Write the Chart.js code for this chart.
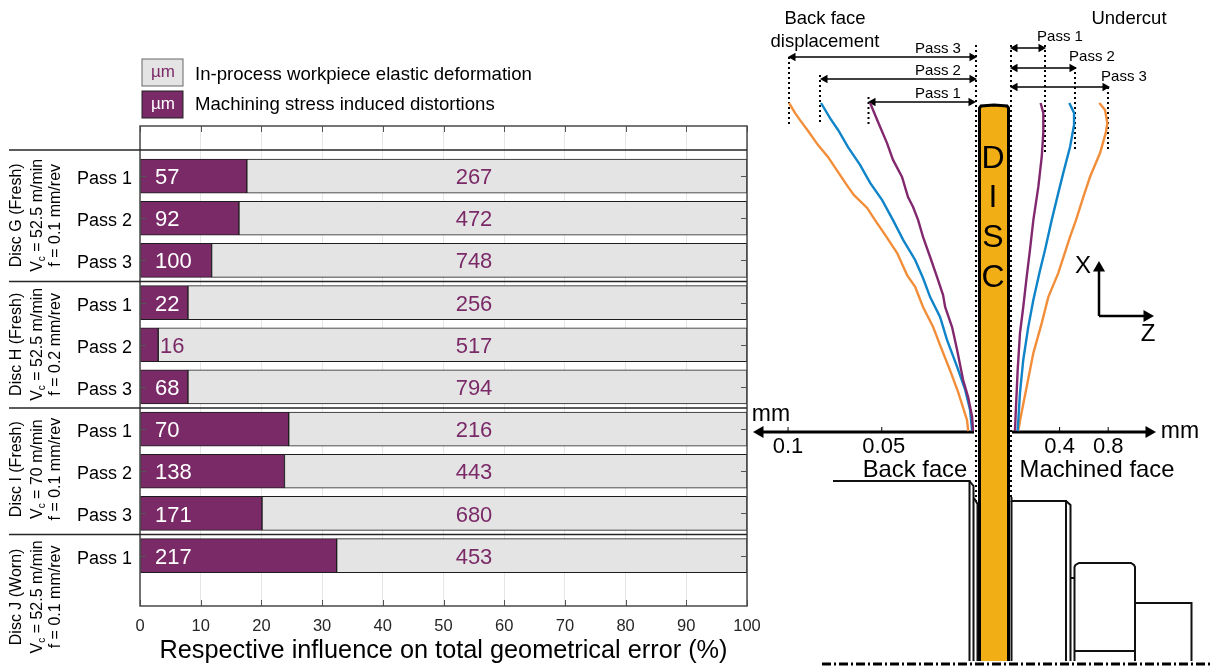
<!DOCTYPE html>
<html>
<head>
<meta charset="utf-8">
<style>
  html, body { margin: 0; padding: 0; background: #fff; overflow: hidden; }
  #wrap { position: relative; width: 1210px; height: 666px; overflow: hidden; }
  canvas { position: absolute; top: 0; }
  #bars { left: 0; }
  #profile { left: 750px; }
</style>
<script src="https://cdn.jsdelivr.net/npm/chart.js@4/dist/chart.umd.min.js"></script>
</head>
<body>
<div id="wrap">
  <canvas id="bars" width="765" height="666"></canvas>
  <canvas id="profile" width="460" height="666"></canvas>
</div>
<script>
// left chart : share of each error source, one row per pass
const rows = [0, 1, 2, 3, 4, 5, 6, 7, 8, 9];
const passLabels = ['Pass 1', 'Pass 2', 'Pass 3', 'Pass 1', 'Pass 2', 'Pass 3', 'Pass 1', 'Pass 2', 'Pass 3', 'Pass 1'];
const machiningPct = [17.6, 16.3, 11.8, 7.9, 3.0, 7.9, 24.5, 23.8, 20.1, 32.4];
const elasticPct = [82.4, 83.7, 88.2, 92.1, 97.0, 92.1, 75.5, 76.2, 79.9, 67.6];
const machiningUm = ['57', '92', '100', '22', '16', '68', '70', '138', '171', '217'];
const elasticUm = ['267', '472', '748', '256', '517', '794', '216', '443', '680', '453'];
const legendLabels = ['In-process workpiece elastic deformation', 'Machining stress induced distortions'];
const discNames = ['Disc G (Fresh)', 'Disc H (Fresh)', 'Disc I (Fresh)', 'Disc J (Worn)'];
const discSpeeds = ['52.5 m/min', '52.5 m/min', '70 m/min', '52.5 m/min'];
const discFeeds = ['f = 0.1 mm/rev', 'f = 0.2 mm/rev', 'f = 0.1 mm/rev', 'f = 0.1 mm/rev'];

// right chart : displacement in mm against position along the face (%)
const backPass1Mm = [.0562, .0520, .0472, .0440, .0392, .0360, .0333, .0306, .0280, .0242, .0205, .0173, .0162, .0125, .0098, .0066, .0039, .0018, .0013];
const backPass1Pos = [100, 94.2, 87.8, 82.7, 77.5, 71.4, 68.4, 64.4, 59.3, 53.2, 47.1, 41.6, 38, 31.9, 24.9, 15.8, 10.6, 4.6, 0.3];
const backPass2Mm = [.0824, .0776, .0733, .0680, .0616, .0562, .0498, .0440, .0386, .0322, .0280, .0242, .0189, .0152, .0098, .0055, .0029, .0018];
const backPass2Pos = [100, 95.4, 91.8, 86.6, 81.2, 75.7, 70.5, 64.4, 58.4, 52.3, 46.8, 41, 35, 28, 19.8, 12.8, 6.7, 0.3];
const backPass3Mm = [.0995, .0963, .0936, .0893, .0840, .0787, .0733, .0680, .0648, .0578, .0536, .0482, .0418, .0365, .0322, .0280, .0226, .0189, .0136, .0093, .0045, .0039];
const backPass3Pos = [100, 97, 94.8, 91.5, 87.2, 83.6, 79, 74.5, 72, 68.1, 64.4, 59.9, 54.4, 47.7, 44.1, 38, 31.9, 26.4, 18.8, 12.2, 3.6, 0.3];
const frontPass1Mm = [.244, .266, .266, .253, .225, .184, .156, .129, .101, .074, .055, .039, .033];
const frontPass1Pos = [100, 97, 90.9, 83.6, 74.5, 64.4, 55.3, 47.1, 38, 30.1, 18.8, 5.8, 0.3];
const frontPass2Mm = [.480, .519, .519, .486, .430, .389, .335, .280, .239, .184, .142, .101, .074, .055];
const frontPass2Pos = [100, 97, 93.3, 86.6, 78.7, 72.6, 64.4, 55.3, 49.2, 40.1, 31.9, 21.9, 11.9, 0.3];
const frontPass3Mm = [.727, .774, .793, .782, .733, .650, .595, .535, .486, .389, .307, .253, .184, .129, .080, .060];
const frontPass3Pos = [100, 97.9, 93.9, 91.2, 84.8, 77.5, 71.4, 64.4, 59.3, 48.3, 41, 33.1, 24, 13.7, 4.6, 0.3];
const backTicks = [0.1, 0.05];
const frontTicks = [0.4, 0.8];

// schematic of the part, in page units
const discFill = [[979.5, 108], [981, 106], [994, 105], [1007, 106], [1008.5, 108], [1008.5, 661], [979.5, 661], [979.5, 108]];
const discEdge = [[979.5, 661], [979.5, 108], [981, 106], [994, 105], [1007, 106], [1008.5, 108], [1008.5, 661]];
const backOutlineA = [[833, 481], [969.5, 481], [969.5, 661]];
const backOutlineB = [[969.5, 481], [973.5, 486], [973.5, 661]];
const backOutlineC = [[974, 498], [977.5, 504], [977.5, 661]];
const frontOutlineA = [[1011.5, 497], [1011.5, 501], [1066, 501], [1066, 661]];
const frontOutlineB = [[1066, 501], [1070.5, 505], [1070.5, 661]];
const frontStepLine = [[1011.5, 501], [1011.5, 661]];
const stepTick = [[1070.5, 578], [1074.5, 578]];
const shoulder = [[1074.5, 661], [1074.5, 567], [1075.5, 565], [1079, 563], [1131, 563], [1134, 565], [1135, 567], [1135, 661]];
const shoulderBase = [[1074.5, 651], [1135, 651]];
const endStep = [[1135, 603], [1191.5, 603], [1191.5, 661]];
const centreLine = [[822, 664], [1210, 664]];
const dottedGuides = [
  [[789, 57], [789, 125]], [[820, 75], [820, 125]], [[868.5, 97], [868.5, 125]],
  [[976, 45], [976, 505]], [[1011, 45], [1011, 497]],
  [[1045, 45], [1045, 152]], [[1075, 67], [1075, 152]], [[1108, 87], [1108, 152]]
];
const spanArrows = [
  [[975, 57], [793, 57], [972, 57]], [[975, 79], [825, 79], [972, 79]], [[974, 102], [873, 102], [971, 102]],
  [[1013, 48], [1041, 48], [1015, 48]], [[1013, 68], [1072, 68], [1015, 68]], [[1013, 87], [1105, 87], [1015, 87]]
];
const axisBack = [[974, 432], [760, 432]];
const axisFront = [[1012, 432], [1149, 432]];
const axisX = [[1099, 316], [1099, 268]];
const axisZ = [[1099, 316], [1147, 316]];

const purple = '#7b2a68';
const grey = '#e4e4e4';
const ink = '#262626';
const sans = '"Liberation Sans", Arial, sans-serif';

Chart.defaults.animation = false;
Chart.defaults.font.family = sans;

function label(ctx, text, x, y, size, color, align) {
  ctx.font = size + 'px ' + sans;
  ctx.fillStyle = color || '#000';
  ctx.textAlign = align || 'center';
  ctx.textBaseline = 'middle';
  ctx.fillText(text, x, y);
}

// boxes, inward ticks, group lines and all the little numbers of the left chart
const barDecor = {
  id: 'barDecor',
  afterDatasetsDraw(chart) {
    const { ctx, chartArea: a, scales } = chart;
    ctx.save();
    ctx.strokeStyle = '#555';
    ctx.lineWidth = 1;
    ctx.beginPath();
    for (let v = 0; v <= 100; v += 10) {
      const x = Math.round(scales.x.getPixelForValue(v)) + 0.5;
      ctx.moveTo(x, a.top); ctx.lineTo(x, a.top + 6);
      ctx.moveTo(x, a.bottom); ctx.lineTo(x, a.bottom - 6);
    }
    rows.forEach(r => {
      const y = Math.round(scales.y.getPixelForValue(r)) + 0.5;
      ctx.moveTo(a.left, y); ctx.lineTo(a.left + 6, y);
      ctx.moveTo(a.right, y); ctx.lineTo(a.right - 6, y);
    });
    ctx.stroke();

    ctx.lineWidth = 1.5;
    ctx.strokeStyle = '#484848';
    ctx.strokeRect(a.left, a.top, a.right - a.left, a.bottom - a.top);
    ctx.strokeStyle = ink;
    [-0.62, 2.5, 5.5, 8.5].forEach(r => {
      const y = scales.y.getPixelForValue(r);
      ctx.beginPath(); ctx.moveTo(9, y); ctx.lineTo(a.right, y); ctx.stroke();
    });

    rows.forEach(r => {
      const y = scales.y.getPixelForValue(r) + 2;
      const small = machiningPct[r] < 5;
      label(ctx, machiningUm[r], small ? 160 : 155, y, 22, small ? purple : '#fff', 'left');
      label(ctx, elasticUm[r], 474, y, 22, purple);
      label(ctx, passLabels[r], 132, y + 1, 18, '#000', 'right');
    });

    // legend
    [[legendLabels[0], 59, 75, grey, purple], [legendLabels[1], 91, 105, purple, '#fff']].forEach(([t, top, ty, fill, c]) => {
      ctx.fillStyle = fill;
      ctx.fillRect(142, top, 41, 27);
      ctx.strokeStyle = fill === grey ? '#666' : '#222';
      ctx.lineWidth = 1;
      ctx.strokeRect(142, top, 41, 27);
      label(ctx, 'µm', 163, top + 13, 17, c);
      label(ctx, t, 195, ty, 18.6, '#000', 'left');
    });

    // rotated disc labels
    [0.93, 3.99, 6.95, 9.98].forEach((r, i) => {
      const y = scales.y.getPixelForValue(r);
      ctx.save();
      ctx.translate(17, y);
      ctx.rotate(-Math.PI / 2);
      label(ctx, discNames[i], 0, 0, 16);
      ctx.translate(0, 21);
      ctx.font = '16px ' + sans;
      const rest = ' = ' + discSpeeds[i];
      const w1 = ctx.measureText('V').width;
      const w2 = ctx.measureText(rest).width;
      ctx.font = '10px ' + sans;
      const ws = ctx.measureText('c').width;
      const x0 = -(w1 + ws + w2) / 2;
      label(ctx, 'V', x0, 0, 16, '#000', 'left');
      label(ctx, 'c', x0 + w1, 4, 10, '#000', 'left');
      label(ctx, rest, x0 + w1 + ws, 0, 16, '#000', 'left');
      label(ctx, discFeeds[i], 0, 18, 16);
      ctx.restore();
    });
    ctx.restore();
  }
};

new Chart(document.getElementById('bars'), {
  type: 'bar',
  data: {
    datasets: [
      { data: rows.map(r => ({ x: machiningPct[r], y: r })), backgroundColor: purple },
      { data: rows.map(r => ({ x: elasticPct[r], y: r })), backgroundColor: grey }
    ]
  },
  options: {
    indexAxis: 'y',
    responsive: false,
    layout: { autoPadding: false, padding: { top: 126, right: 18, left: 0, bottom: 0 } },
    datasets: { bar: { barThickness: 34, borderWidth: 1, borderColor: '#1c1c1c', borderSkipped: false, stack: 'all' } },
    plugins: { legend: { display: false }, tooltip: { enabled: false } },
    scales: {
      x: {
        type: 'linear', stacked: true, min: 0, max: 100,
        afterFit(s) { s.height = 60; s.paddingLeft = 0; s.paddingRight = 0; },
        ticks: { stepSize: 10, color: ink, padding: 11, maxRotation: 0, font: { size: 16.5 } },
        grid: { color: '#e6e6e6', drawTicks: false },
        border: { display: false },
        title: { display: true, text: 'Respective influence on total geometrical error (%)', color: '#000', font: { size: 25.3 }, padding: { top: 1, bottom: 0 } }
      },
      y: {
        type: 'linear', stacked: true, reverse: true, offset: false, min: -1.188, max: 10.195,
        afterFit(s) { s.width = 140; s.paddingTop = 0; s.paddingBottom = 0; },
        ticks: { display: false, stepSize: 1, includeBounds: false },
        grid: { display: false },
        border: { display: false }
      }
    }
  },
  plugins: [barDecor]
});

function pairs(xs, ys) { return xs.map((x, i) => ({ x: x, y: ys[i] })); }
function points(list) { return list.map(p => ({ x: p[0], y: p[1] })); }
function partLine(list, width, color) {
  return { data: points(list), xAxisID: 'xPart', yAxisID: 'yPart', showLine: true, borderColor: color || '#111', borderWidth: width, pointRadius: 0, tension: 0 };
}
function curve(xs, ys, axis, color) {
  return { data: pairs(xs, ys), xAxisID: axis, yAxisID: 'yPos', showLine: true, borderColor: color, borderWidth: 2.4, pointRadius: 0, tension: 0 };
}
// one head at the end of a line, sometimes both ends (third point back on the line)
function arrow(list, width, size) {
  const dir = (a, b) => Math.abs(b[0] - a[0]) > Math.abs(b[1] - a[1]) ? (b[0] > a[0] ? 90 : -90) : (b[1] > a[1] ? 180 : 0);
  const rot = list.map((p, i) => i === 0 ? 0 : dir(list[i - 1], p));
  return Object.assign(partLine(list, width, '#000'), {
    pointRadius: list.map((p, i) => i === 0 ? 0 : size),
    pointStyle: 'triangle',
    pointRotation: rot,
    pointBackgroundColor: '#000',
    pointBorderWidth: 0
  });
}

const profileText = {
  id: 'profileText',
  afterDatasetsDraw(chart) {
    const { ctx, scales } = chart;
    const px = v => scales.xPart.getPixelForValue(v);
    const py = v => scales.yPart.getPixelForValue(v);
    ctx.save();
    ctx.strokeStyle = '#000';
    ctx.lineWidth = 1;
    backTicks.forEach(t => {
      const x = scales.xBack.getPixelForValue(t);
      ctx.beginPath(); ctx.moveTo(x, py(432)); ctx.lineTo(x, py(427)); ctx.stroke();
      label(ctx, String(t), t === 0.05 ? x + 2 : x, py(447), 22);
    });
    frontTicks.forEach(t => {
      const x = scales.xFront.getPixelForValue(t);
      ctx.beginPath(); ctx.moveTo(x, py(432)); ctx.lineTo(x, py(427)); ctx.stroke();
      label(ctx, String(t), x, py(447), 22);
    });
    [
      ['Back face', 825, 19, 18.5], ['displacement', 825, 42, 18.5], ['Undercut', 1129, 19, 18.5],
      ['Pass 3', 938, 49, 15], ['Pass 2', 938, 71, 15], ['Pass 1', 938, 94, 15],
      ['Pass 1', 1060, 37, 15], ['Pass 2', 1092, 57, 15], ['Pass 3', 1124, 77, 15],
      ['D', 993, 159, 32], ['I', 993, 198, 32], ['S', 993, 238, 32], ['C', 993, 278, 32],
      ['X', 1083, 266, 24], ['Z', 1148, 334, 24],
      ['mm', 771, 415, 23], ['mm', 1180, 432, 23],
      ['Back face', 915, 470, 23.8], ['Machined face', 1097, 470, 23.8]
    ].forEach(t => label(ctx, t[0], px(t[1]), py(t[2]), t[3]));
    ctx.restore();
  }
};

const curveBlue = '#0f84c8';
const curveOrange = '#f28e3a';
const curvePurple = '#82286f';

new Chart(document.getElementById('profile'), {
  type: 'scatter',
  data: {
    datasets: [
      curve(backPass1Mm, backPass1Pos, 'xBack', curvePurple),
      curve(backPass2Mm, backPass2Pos, 'xBack', curveBlue),
      curve(backPass3Mm, backPass3Pos, 'xBack', curveOrange),
      curve(frontPass1Mm, frontPass1Pos, 'xFront', curvePurple),
      curve(frontPass2Mm, frontPass2Pos, 'xFront', curveBlue),
      curve(frontPass3Mm, frontPass3Pos, 'xFront', curveOrange),
      partLine(discEdge, 3, '#000'),
      Object.assign(partLine(discFill, 0), { fill: 'shape', backgroundColor: '#f1ae15' }),
      partLine(backOutlineA, 2), partLine(backOutlineB, 2), partLine(backOutlineC, 2),
      partLine(frontOutlineA, 2), partLine(frontOutlineB, 2), partLine(frontStepLine, 2),
      partLine(stepTick, 2), partLine(shoulder, 2), partLine(shoulderBase, 2), partLine(endStep, 2),
      Object.assign(partLine(centreLine, 3, '#000'), { borderDash: [9, 3, 2, 3] }),
      ...dottedGuides.map(g => Object.assign(partLine(g, 2, '#000'), { borderDash: [2, 3] })),
      ...spanArrows.map(a => arrow(a, 1.5, 5)),
      arrow(axisBack, 3, 7), arrow(axisFront, 3, 7), arrow(axisX, 2.5, 7), arrow(axisZ, 2.5, 7)
    ]
  },
  options: {
    responsive: false,
    layout: { autoPadding: false, padding: 0 },
    plugins: { legend: { display: false }, tooltip: { enabled: false } },
    scales: {
      xPart: { type: 'linear', display: false, min: 750, max: 1210 },
      yPart: { type: 'linear', display: false, min: 0, max: 666, reverse: true },
      xBack: { type: 'linear', display: false, min: -0.1251, max: 0.1203, reverse: true },
      xFront: { type: 'linear', display: false, min: -2.148, max: 1.638 },
      yPos: { type: 'linear', display: false, min: -71.1, max: 131.3 }
    }
  },
  plugins: [profileText]
});
</script>
</body>
</html>
